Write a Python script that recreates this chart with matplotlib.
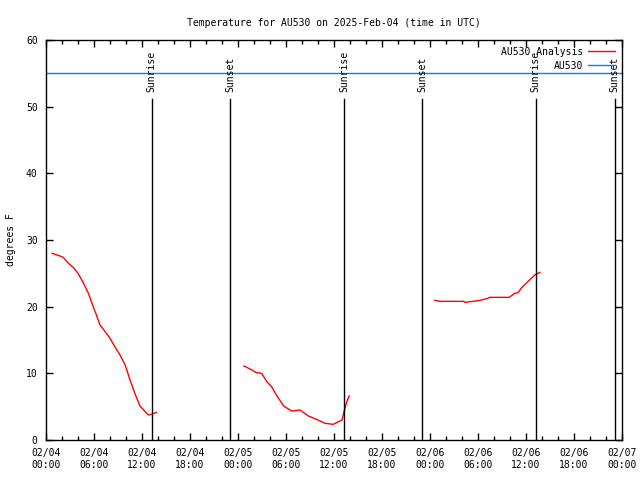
import matplotlib
matplotlib.use("Agg")
import matplotlib.pyplot as plt
import numpy as np

# hours since 2025-02-04 00:00 UTC
seg1_hours = [0.75, 1.75, 2.15, 2.8, 3.4, 4.0, 4.7, 5.3, 5.9, 6.3, 6.75, 7.4, 8.0,
              8.6, 9.25, 9.9, 10.5, 11.1, 11.75, 12.4, 12.8, 13.2, 13.8]
seg1_temps = [28.0, 27.6, 27.4, 26.5, 25.9, 25.0, 23.5, 22.0, 20.0, 18.75, 17.25,
              16.25, 15.25, 14.0, 12.75, 11.25, 9.0, 7.0, 5.1, 4.25, 3.75, 3.85, 4.15]

seg2_hours = [24.75, 25.5, 26.3, 26.96, 27.6, 28.2, 28.8, 29.7, 30.7, 31.75, 32.8,
              33.8, 34.9, 35.9, 36.75, 37.0, 37.25, 37.6, 37.9]
seg2_temps = [11.1, 10.65, 10.1, 10.0, 8.75, 8.0, 6.75, 5.1, 4.35, 4.5, 3.6, 3.1,
              2.5, 2.35, 2.85, 3.0, 4.25, 5.75, 6.6]

seg3_hours = [48.6, 49.25, 52.2, 52.4, 53.4, 54.25, 55.1, 55.5, 57.9, 58.6, 59.0,
              59.5, 60.1, 61.1, 61.75]
seg3_temps = [20.95, 20.8, 20.8, 20.65, 20.8, 20.95, 21.2, 21.4, 21.4, 22.0, 22.1,
              22.9, 23.6, 24.75, 25.15]

obs_temp = 55

events = [(13.2, "Sunrise"), (23.0, "Sunset"), (37.25, "Sunrise"),
          (47.0, "Sunset"), (61.2, "Sunrise"), (71.1, "Sunset")]

tick_hours = list(range(0, 73, 6))
tick_labels = ["02/04\n00:00", "02/04\n06:00", "02/04\n12:00", "02/04\n18:00",
               "02/05\n00:00", "02/05\n06:00", "02/05\n12:00", "02/05\n18:00",
               "02/06\n00:00", "02/06\n06:00", "02/06\n12:00", "02/06\n18:00",
               "02/07\n00:00"]

plt.rcParams["font.family"] = ["DejaVu Sans Mono"]
plt.rcParams["font.size"] = 7

fig = plt.figure(figsize=(6.4, 4.8), dpi=100)
ax = fig.add_axes([46 / 640, 40 / 480, 576 / 640, 400 / 480])

red = "#ff0000"
blue = "#0080ff"
ax.plot(seg1_hours, seg1_temps, color=red, lw=1, label="AU530 Analysis")
ax.plot(seg2_hours, seg2_temps, color=red, lw=1)
ax.plot(seg3_hours, seg3_temps, color=red, lw=1)
ax.axhline(obs_temp, color=blue, lw=1, label="AU530")

for h, name in events:
    ax.plot([h, h], [0, 51.1], color="black", lw=1)
    ax.text(h, 52.2, name, rotation=90, ha="center", va="bottom")

ax.set_xlim(0, 72)
ax.set_ylim(0, 60)
ax.set_xticks(tick_hours)
ax.set_xticklabels(tick_labels)
ax.set_xticks(np.arange(0, 73, 2), minor=True)
ax.set_yticks(range(0, 61, 10))
ax.tick_params(which="both", direction="in", top=True, right=True, width=1)
ax.tick_params(which="major", length=5, pad=6)
ax.tick_params(which="minor", length=3)
ax.set_ylabel("degrees F", labelpad=7)
ax.set_title("Temperature for AU530 on 2025-Feb-04 (time in UTC)", fontsize=7, pad=10)
for s in ax.spines.values():
    s.set_linewidth(1)

ax.legend(loc="upper right", frameon=False, markerfirst=False, handlelength=2.8,
          handletextpad=0.5, labelspacing=0.4, borderaxespad=0.4, borderpad=0.3)

fig.savefig("out.png", dpi=100)
